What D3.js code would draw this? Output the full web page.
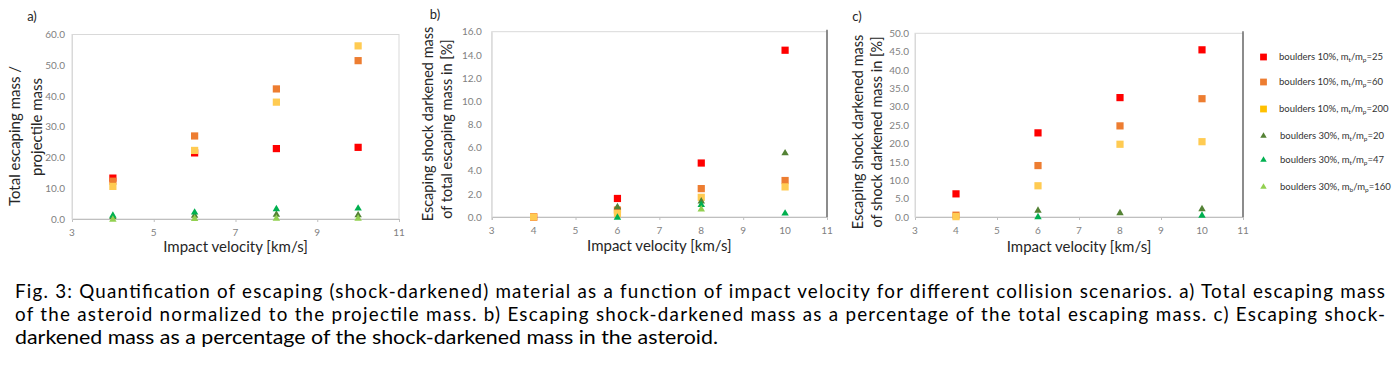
<!DOCTYPE html>
<html><head><meta charset="utf-8">
<script src="https://cdn.jsdelivr.net/npm/d3@7"></script>
<style>
html,body{margin:0;padding:0;background:#fff;}
svg{display:block;font-family:Lato,"Open Sans",sans-serif;}
</style></head>
<body><svg id="chart" width="1400" height="369"></svg>
<script>
// ---------- data ----------
const velocity = [4, 6, 8, 10];
const xTicksA = [3, 5, 7, 9, 11];
const xTicksBC = [3, 4, 5, 6, 7, 8, 9, 10, 11];
const yTicksA = [0, 10, 20, 30, 40, 50, 60];
const yTicksB = [0, 2, 4, 6, 8, 10, 12, 14, 16];
const yTicksC = [0, 5, 10, 15, 20, 25, 30, 35, 40, 45, 50];

const seriesPrefix = ["boulders 10%", "boulders 10%", "boulders 10%", "boulders 30%", "boulders 30%", "boulders 30%"];
const seriesSub = ["t", "t", "t", "t", "t", "b"];
const seriesRatio = ["25", "60", "200", "20", "47", "160"];
const seriesShape = ["square", "square", "square", "triangle", "triangle", "triangle"];
const seriesColor = ["#FF0000", "#ED7D31", "#FFCB52", "#548235", "#00B050", "#92D050"];
const legendColor = ["#FF0000", "#ED7D31", "#FFC000", "#548235", "#00B050", "#92D050"];

// a) total escaping mass / projectile mass (one row per series)
const totalEscaping = [
  [13.3, 21.5, 22.9, 23.3],
  [12.3, 27.0, 42.3, 51.5],
  [10.6, 22.3, 38.0, 56.3],
  [0.9, 1.3, 1.6, 1.4],
  [1.3, 2.3, 3.4, 3.6],
  [0.0, 0.2, 0.3, 0.3]
];
// b) escaping shock darkened mass of total escaping mass [%]
const darkOfEscaping = [
  [0.0, 1.6, 4.66, 14.4],
  [0.0, 0.6, 2.45, 3.15],
  [0.0, 0.3, 1.7, 2.6],
  [null, 0.9, 1.4, 5.55],
  [null, 0.0, 1.1, 0.35],
  [null, null, 0.7, null]
];
// c) escaping shock darkened mass of shock darkened mass [%]
const darkOfDarkened = [
  [6.3, 22.9, 32.5, 45.5],
  [0.5, 14.0, 24.8, 32.2],
  [0.1, 8.5, 19.8, 20.5],
  [null, 1.9, 1.2, 2.3],
  [null, 0.1, null, 0.5],
  [null, null, null, null]
];

const panelLabels = ["a)", "b)", "c)"];
const yTitles = [
  ["Total escaping mass /", "projectile mass"],
  ["Escaping shock darkened mass", "of total escaping mass in [%]"],
  ["Escaping shock darkened mass", "of shock darkened mass in [%]"]
];
const xTitle = "Impact velocity [km/s]";
const captionLines = [
  "Fig. 3: Quantification of escaping (shock-darkened) material as a function of impact velocity for different collision scenarios. a) Total escaping mass",
  "of the asteroid normalized to the projectile mass. b) Escaping shock-darkened mass as a percentage of the total escaping mass. c) Escaping shock-",
  "darkened mass as a percentage of the shock-darkened mass in the asteroid."
];

// ---------- layout ----------
const svg = d3.select("#chart");
const panels = [
  {data: totalEscaping, yTicks: yTicksA, xTicks: xTicksA, xLabels: xTicksA, yMax: 60,
   box: {l: 72, r: 399, t: 34.5, b: 219}, dark: false,
   label: [32, 21], titleX: [15, 37], titleC: [136, 127], xTitleY: 252, tickLabelDx: 7},
  {data: darkOfEscaping, yTicks: yTicksB, xTicks: xTicksA, xLabels: xTicksBC, yMax: 16,
   box: {l: 491.7, r: 827, t: 31.7, b: 217}, dark: true,
   label: [435, 19], titleX: [428, 447], titleC: [124, 129], xTitleY: 251, tickLabelDx: 10},
  {data: darkOfDarkened, yTicks: yTicksC, xTicks: xTicksA, xLabels: xTicksBC, yMax: 50,
   box: {l: 915, r: 1243, t: 33.3, b: 217}, dark: true,
   label: [857, 21], titleX: [858, 877], titleC: [132, 132], xTitleY: 252, tickLabelDx: 6}
];

const sym = {
  square: d3.symbol().type(d3.symbolSquare).size(52),
  triangle: d3.symbol().type(d3.symbolTriangle).size(24)
};

panels.forEach((p, pi) => {
  const x = d3.scaleLinear().domain([3, 11]).range([p.box.l, p.box.r]);
  const y = d3.scaleLinear().domain([0, p.yMax]).range([p.box.b, p.box.t]);
  const g = svg.append("g");

  // plot frame
  g.append("rect").attr("x", p.box.l).attr("y", p.box.t)
    .attr("width", p.box.r - p.box.l).attr("height", p.box.b - p.box.t)
    .attr("fill", "none").attr("stroke", "#D9D9D9").attr("stroke-width", 1);
  if (p.dark) {
    g.append("line").attr("x1", p.box.r).attr("x2", p.box.r)
      .attr("y1", p.box.t - 2).attr("y2", p.box.b)
      .attr("stroke", "#595959").attr("stroke-width", 1.3);
  }

  // x axis
  const xAxis = g.append("g").attr("transform", `translate(0,${p.box.b})`)
    .call(d3.axisBottom(x).tickValues(p.xTicks).tickSize(3).tickFormat(""));
  xAxis.select(".domain").attr("stroke", "#BFBFBF");
  xAxis.selectAll(".tick line").attr("stroke", "#BFBFBF");
  g.selectAll(".xlab").data(p.xLabels).enter().append("text")
    .attr("x", d => x(d)).attr("y", p.box.b + 17)
    .attr("text-anchor", "middle").attr("font-size", 10).attr("fill", "#7F7F7F")
    .text(d => d);

  // y axis
  const yAxis = g.append("g").attr("transform", `translate(${p.box.l},0)`)
    .call(d3.axisLeft(y).tickValues(p.yTicks).tickSize(0).tickPadding(p.tickLabelDx).tickFormat(d3.format(".1f")));
  yAxis.select(".domain").attr("stroke", "#D9D9D9");
  yAxis.selectAll("text").attr("font-size", 10).attr("fill", "#7F7F7F")
    .attr("font-family", "Lato, sans-serif");

  // titles
  g.append("text").attr("x", (p.box.l + p.box.r) / 2).attr("y", p.xTitleY)
    .attr("text-anchor", "middle").attr("font-size", 15).attr("fill", "#262626")
    .text(xTitle);
  yTitles[pi].forEach((t, li) => {
    g.append("text")
      .attr("transform", `translate(${p.titleX[li] + 5},${p.titleC[li]}) rotate(-90)`)
      .attr("text-anchor", "middle").attr("font-size", pi === 0 ? 15 : 14.5).attr("fill", "#262626")
      .text(t);
  });
  g.append("text").attr("x", p.label[0]).attr("y", p.label[1])
    .attr("text-anchor", "middle").attr("font-size", 13).attr("fill", "#262626")
    .text(panelLabels[pi]);

  // markers
  p.data.forEach((vals, si) => {
    const pts = velocity.map((v, i) => ({v, val: vals[i]})).filter(d => d.val !== null);
    g.selectAll(null).data(pts).enter().append("path")
      .attr("d", sym[seriesShape[si]])
      .attr("transform", d => `translate(${x(d.v)},${y(d.val) + (seriesShape[si] === "triangle" ? 0.5 : 0)})`)
      .attr("fill", seriesColor[si]);
  });
});

// ---------- legend ----------
const legendY = [57, 82, 109, 136, 160, 187];
const lg = svg.append("g");
seriesPrefix.forEach((pre, i) => {
  const shape = seriesShape[i];
  lg.append("path")
    .attr("d", shape === "square" ? d3.symbol().type(d3.symbolSquare).size(46)() : d3.symbol().type(d3.symbolTriangle).size(18)())
    .attr("transform", `translate(${1263.5},${legendY[i]})`)
    .attr("fill", legendColor[i]);
  const t = lg.append("text").attr("x", shape === "square" ? 1279 : 1280).attr("y", legendY[i] + 2.5)
    .attr("font-size", 9.5).attr("fill", "#333");
  t.append("tspan").text(pre + ", m");
  t.append("tspan").attr("font-size", 6.5).attr("dy", 2).text(seriesSub[i]);
  t.append("tspan").attr("dy", -2).text("/m");
  t.append("tspan").attr("font-size", 6.5).attr("dy", 2).text("p");
  t.append("tspan").attr("dy", -2).text("=" + seriesRatio[i]);
});

// ---------- caption ----------
const cap = svg.append("g");
const capBase = [298, 321, 344];
const capWidth = [1370, 1370, 703];
captionLines.forEach((line, i) => {
  cap.append("text").attr("x", 15).attr("y", capBase[i]).attr("font-size", 18.8)
    .attr("fill", "#000")
    .attr("textLength", capWidth[i])
    .attr("lengthAdjust", i < 2 ? "spacing" : "spacingAndGlyphs")
    .text(line);
});
</script>
</body></html>
